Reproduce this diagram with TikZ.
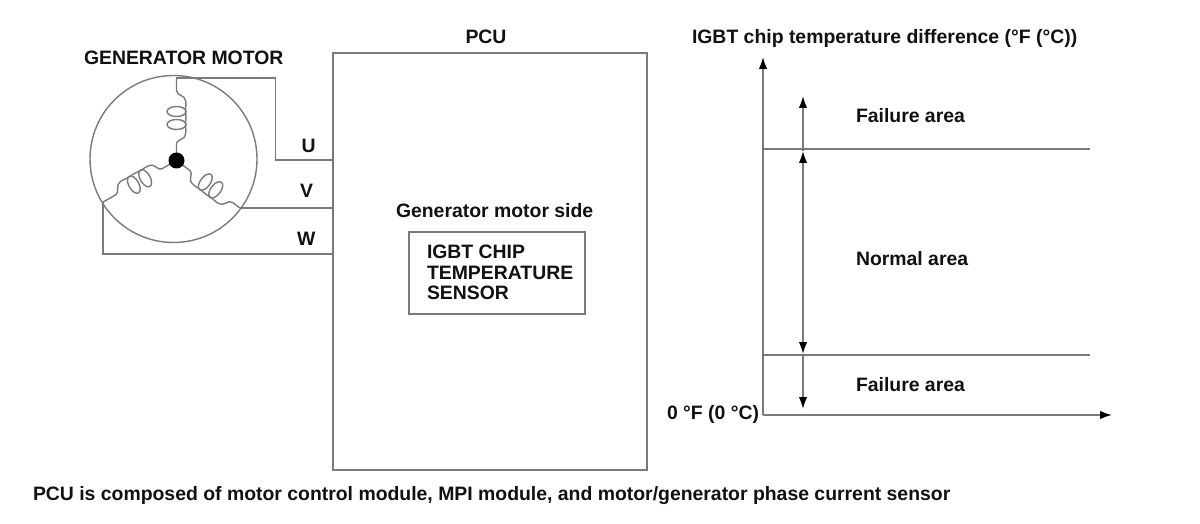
\documentclass[tikz,border=0pt]{standalone}
\usepackage{fontspec}
\setmainfont{Liberation Sans}
\usetikzlibrary{arrows.meta}
\definecolor{ln}{HTML}{7A7A7A}
\definecolor{txt}{HTML}{111111}
\newcommand{\lbl}{\fontsize{19.4}{19.4}\selectfont\bfseries}
\newcommand{\coilshape}[1]{%
  \draw[coil] (0,0) -- (17,0) .. controls (21,0) and (21,9) .. (26,9)
    .. controls (30,10) and (31,9) .. (36,9) .. controls (40,9) and (44,10) .. (49,9)
    .. controls (54,9) and (58,10) .. (60,9) .. controls (65,9) and (65,0) .. (70,0) -- (#1,0);
  \draw[coil] (36,0) ellipse [x radius=5,y radius=9.5];
  \draw[coil] (49,0) ellipse [x radius=5,y radius=9.5];
}
\tikzset{
  coil/.style={draw=ln,line width=1.4pt},
  wire/.style={draw=ln,line width=1.7pt},
  box/.style={draw=ln,line width=1.7pt,fill=none,inner sep=0,outer sep=0},
  txtnode/.style={inner sep=0,outer sep=0,text=txt,anchor=base west,align=left,font=\lbl},
  tip/.style={draw=ln,line width=1.7pt,-{Latex[length=12pt,width=8.5pt,black]}},
  tiptwo/.style={draw=ln,line width=1.7pt,{Latex[length=12pt,width=8.5pt,black]}-{Latex[length=12pt,width=8.5pt,black]}},
}
\begin{document}
\begin{tikzpicture}[x=1pt,y=-1pt]
\useasboundingbox (0,0) rectangle (1200,524);
\fill[white] (0,0) rectangle (1200,524);
% generator motor
\node[circle,draw=ln,line width=1.4pt,minimum size=167pt,inner sep=0] (rotor) at (173.5,159) {};
\coordinate (hubc) at (176.5,160.5);
\coordinate (rimU) at (176,78);
\coordinate (rimV) at (240,208);
\coordinate (rimW) at (103,202);
\begin{scope}[shift={(hubc)},rotate=90]\coilshape{82.5}\end{scope}
\begin{scope}[shift={(hubc)},rotate=-36.8]\coilshape{79.4}\end{scope}
\begin{scope}[shift={(hubc)},rotate=209.5]\coilshape{84.4}\end{scope}
\node[circle,fill=black,minimum size=16pt,inner sep=0] (hub) at (hubc) {};
% PCU
\node[box,minimum width=314pt,minimum height=417pt] (pcu) at (490,261.5) {};
\node[box,minimum width=176pt,minimum height=82pt] (sensor) at (497,273) {};
\coordinate (pU) at (pcu.west |- 0,160);
\coordinate (pV) at (pcu.west |- 0,208);
\coordinate (pW) at (pcu.west |- 0,254);
\coordinate (bendU) at (275.5,78);
\coordinate (bendU2) at (275.5,160);
\coordinate (bendW) at (103,254);
\draw[wire] (rimU) -- (bendU) -- (bendU2) -- (pU);
\draw[wire] (rimV) -- (pV);
\draw[wire] (rimW) -- (bendW) -- (pW);
% graph
\coordinate (o) at (763,415);
\coordinate (yend) at (763,57);
\coordinate (xend) at (1112,415);
\coordinate (l1a) at (763,149);
\coordinate (l1b) at (1090,149);
\coordinate (l2a) at (763,355);
\coordinate (l2b) at (1090,355);
\coordinate (a1) at (803,96);
\coordinate (a2) at (803,151);
\coordinate (a3) at (803,354);
\coordinate (a4) at (803,409);
\draw[tip] (o) -- (yend);
\draw[tip] (o) -- (xend);
\draw[wire] (l1a) -- (l1b);
\draw[wire] (l2a) -- (l2b);
\draw[tip] (a2) -- (a1);
\draw[tiptwo] (a3) -- (a2);
\draw[tip] (a3) -- (a4);
% text
\node[txtnode] (t1) at (84,65) {GENERATOR MOTOR};
\node[txtnode] (t2) at (465.5,43.7) {PCU};
\node[txtnode] (t3) at (692,43.7) {IGBT chip temperature difference (°F (°C))};
\node[txtnode] (t4) at (301.5,152.7) {U};
\node[txtnode] (t5) at (300,197.7) {V};
\node[txtnode] (t6) at (297,245) {W};
\node[txtnode] (t7) at (396,217.7) {Generator motor side};
\node[txtnode] (t8a) at (427,258.7) {IGBT CHIP};
\node[txtnode] (t8b) at (427,279.5) {TEMPERATURE};
\node[txtnode] (t8c) at (427,299.5) {SENSOR};
\node[txtnode] (t9) at (856,123) {Failure area};
\node[txtnode] (t10) at (856,265.5) {Normal area};
\node[txtnode] (t11) at (856,391.5) {Failure area};
\node[txtnode] (t12) at (667,419.3) {0 °F (0 °C)};
\node[txtnode] (t13) at (33,500.7) {PCU is composed of motor control module, MPI module, and motor/generator phase current sensor};
\end{tikzpicture}
\end{document}
